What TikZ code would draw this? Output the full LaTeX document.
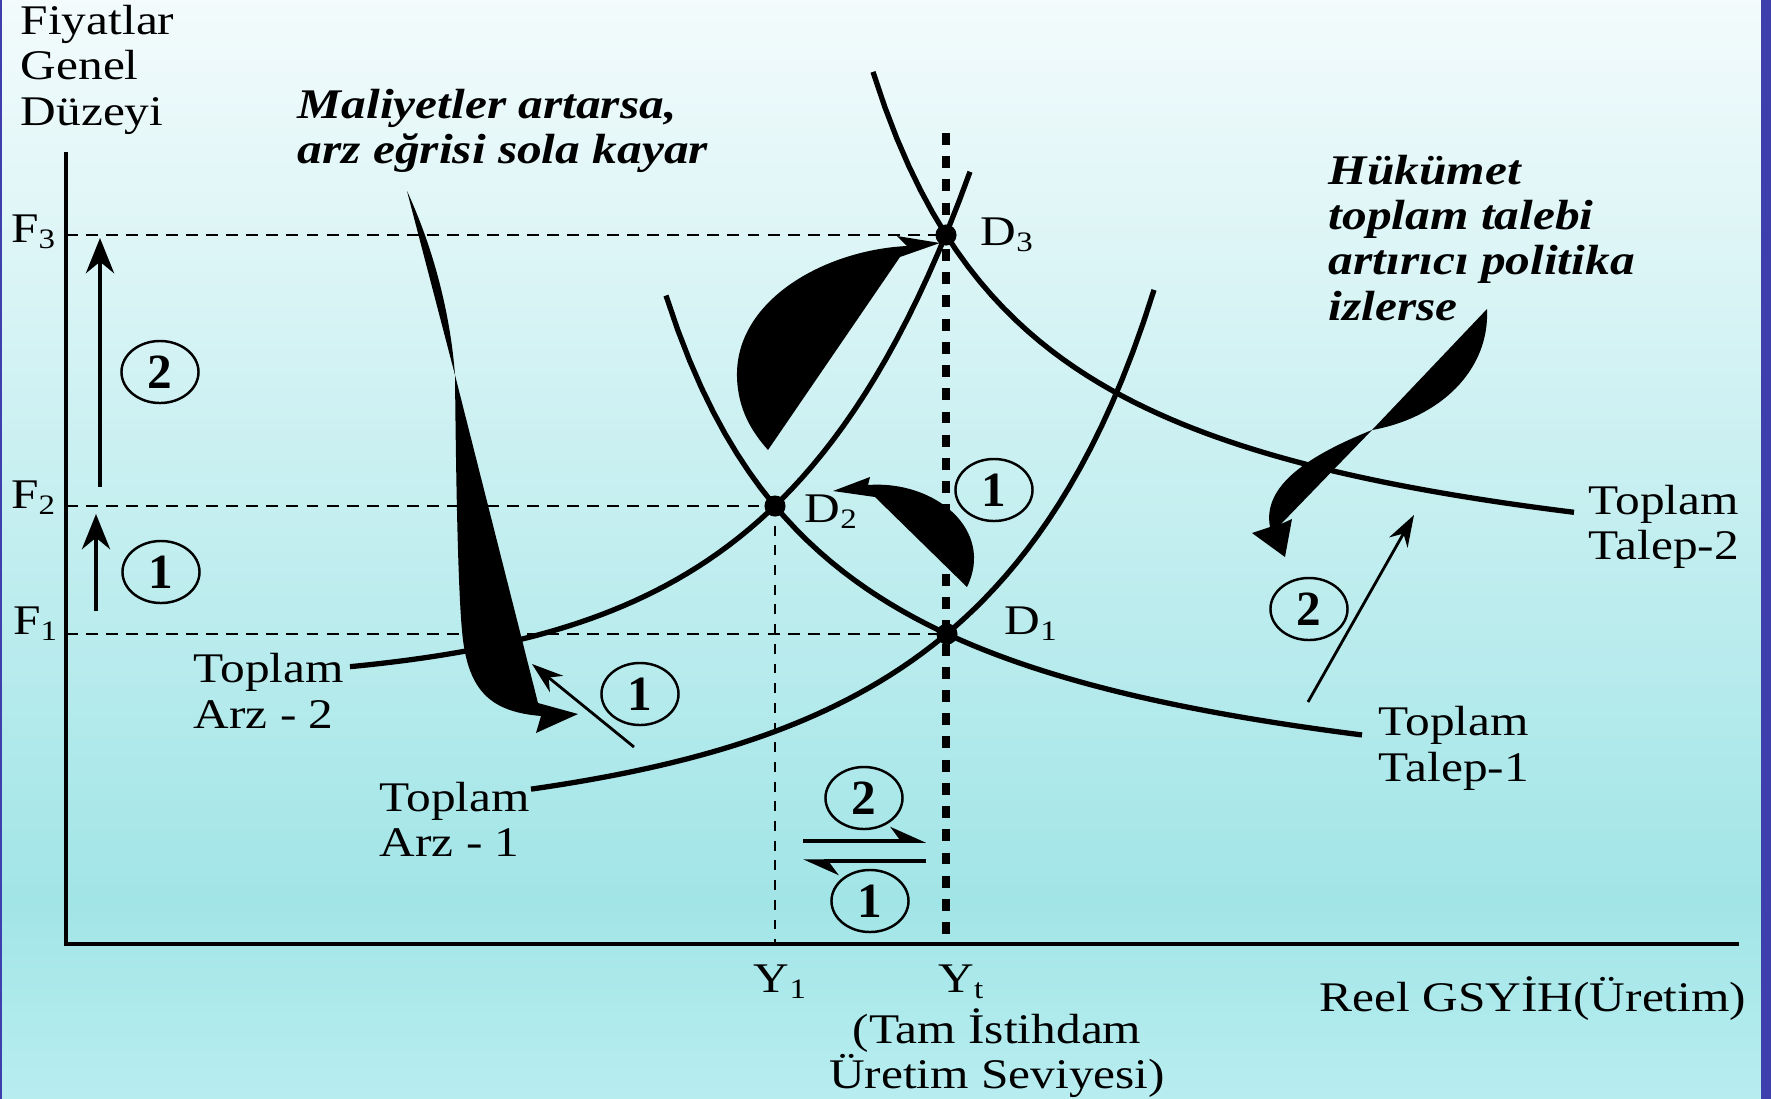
\documentclass[tikz,border=0pt]{standalone}
\usepackage{fontspec}
\setmainfont{Liberation Serif}
\usepackage{tikz}
\usetikzlibrary{arrows.meta,shapes.geometric}
\usepackage{xcolor}
\definecolor{bgtop}{RGB}{243,251,252}
\definecolor{bgmid}{RGB}{162,229,231}
\definecolor{bgbot}{RGB}{184,237,240}
\definecolor{edgeblue}{RGB}{62,62,172}
\pgfdeclareverticalshading{bgshade}{100bp}{color(0bp)=(bgbot); color(25bp)=(bgbot); color(34bp)=(bgmid); color(75bp)=(bgtop); color(100bp)=(bgtop)}

\begin{document}
\begin{tikzpicture}[x=0.01cm,y=-0.01cm,line cap=butt,
  txt/.style={font=\fontsize{12}{12.8}\selectfont,xscale=1.17,inner sep=0pt},
  note/.style={txt,align=left,font=\fontsize{12}{12.8}\selectfont\bfseries\itshape},
  num/.style={draw,ellipse,line width=0.7pt,minimum width=0.77cm,minimum height=0.62cm,inner sep=0pt,font=\fontsize{14}{14}\selectfont\bfseries},
  curve/.style={line width=1.5pt},
  guide/.style={line width=0.7pt,dash pattern=on 3.4pt off 2.3pt},
  >={Stealth[length=10pt,width=8pt]}]
\useasboundingbox (0,0) rectangle (1771,1099);
\shade[shading=bgshade] (0,0) rectangle (1771,1099);
\fill[edgeblue] (1761,0) rectangle (1771,1099);
\fill[edgeblue] (0,0) rectangle (2,1099);

\coordinate (D1) at (947,634);
\coordinate (D2) at (775,506);
\coordinate (D3) at (946,235);

\draw[guide] (66,235) -- (D3);
\draw[guide] (66,506) -- (D2);
\draw[guide] (66,634) -- (D1);
\draw[line width=0.7pt,dash pattern=on 2.8pt off 2.8pt] (D2) -- (775,944);
\draw[line width=2pt,dash pattern=on 3.4pt off 3.2pt] (946,133) -- (946,944);
\draw[line width=1pt] (66,152) -- (66,944) -- (1739,944);

\draw[curve] plot[domain=531:1154,samples=60] (\x,{869.7-548.6/(13.218-\x/100)-0.7845*exp(0.005*\x)});
\draw[curve] plot[domain=350:970,samples=60] (\x,{684.7-2.72*exp(0.0054*\x)});
\draw[curve] plot[domain=666:1362,samples=60] (\x,{846.2-970.35/(\x/100-4.898)});
\draw[curve] plot[domain=873:1574,samples=60] (\x,{621-950/(\x/100-7)});

\fill (D1) circle (3pt);
\fill (D2) circle (3pt);
\fill (D3) circle (3pt);

\fill (407,191) .. controls (432,245) and (450,310) .. (455,375) -- (538,703) -- (578,714) -- (536,733) -- (541,716)
  .. controls (495,712) and (470,695) .. (463,640) .. controls (458,600) and (456,480) .. (455,375) -- cycle;
\fill (768,450) -- (900,257) -- (940,243) -- (897,236) -- (907,246)
  .. controls (825,250) and (735,300) .. (737,377) .. controls (738,410) and (752,432) .. (768,450) -- cycle;
\fill (833,491) -- (870,477) -- (868,485) .. controls (935,480) and (995,530) .. (967,587) -- (875,497) -- cycle;
\fill (1487,309) .. controls (1490,370) and (1440,418) .. (1372,430) -- (1281,524) -- (1292,519) -- (1285,557) -- (1252,533) -- (1270,527)
  .. controls (1262,485) and (1310,455) .. (1372,430) -- cycle;

\draw[line width=1.2pt,->] (100,487) -- (100,238);
\draw[line width=1.2pt,->] (96,611) -- (96,514);
\draw[line width=0.8pt,-{Stealth[length=9pt,width=6pt]}] (634,747) -- (532,664);
\draw[line width=0.8pt,-{Stealth[length=9pt,width=6pt]}] (1308,702) -- (1414,515);
\draw[line width=1pt,-{Stealth[harpoon,length=9pt,width=8pt]}] (803,841) -- (926,841);
\draw[line width=1pt,-{Stealth[harpoon,length=9pt,width=8pt]}] (926,861) -- (803,861);

\node[num] (n2l) at (160,372) {2};
\node[num] (n1l) at (161,572) {1};
\node[num] (n1s) at (640,694) {1};
\node[num] (n2b) at (864,798) {2};
\node[num] (n1b) at (870,901) {1};
\node[num] (n1d) at (994,490) {1};
\node[num] (n2r) at (1309,609) {2};

\node[txt,align=left,anchor=base west] (pgd) at (20,125) {Fiyatlar\\Genel\\Düzeyi};
\node[note,anchor=base west] (cost) at (297,163) {Maliyetler artarsa,\\arz eğrisi sola kayar};
\node[note,anchor=base west] (gov) at (1328,320) {Hükümet\\toplam talebi\\artırıcı politika\\izlerse};
\node[txt,anchor=base east] (f3) at (58,242) {F\textsubscript{3}};
\node[txt,anchor=base east] (f2) at (58,508) {F\textsubscript{2}};
\node[txt,anchor=base east] (f1) at (60,634) {F\textsubscript{1}};
\node[txt,anchor=base west] (d3) at (980,245) {D\textsubscript{3}};
\node[txt,anchor=base west] (d2) at (804,522) {D\textsubscript{2}};
\node[txt,anchor=base west] (d1) at (1004,634) {D\textsubscript{1}};
\node[txt,align=left,anchor=base west] (as2) at (193,728) {Toplam\\Arz - 2};
\node[txt,align=left,anchor=base west] (as1) at (379,856) {Toplam\\Arz - 1};
\node[txt,align=left,anchor=base west] (ad1) at (1378,781) {Toplam\\Talep-1};
\node[txt,align=left,anchor=base west] (ad2) at (1588,559) {Toplam\\Talep-2};
\node[txt,anchor=base] (y1) at (781,992) {Y\textsubscript{1}};
\node[txt,anchor=base] (yt) at (962,992) {Y\textsubscript{t}};
\node[txt,align=center,anchor=base] (yfull) at (997,1088) {(Tam İstihdam\\Üretim Seviyesi)};
\node[txt,anchor=base] (xlab) at (1533,1011) {Reel GSYİH(Üretim)};
\end{tikzpicture}
\end{document}
